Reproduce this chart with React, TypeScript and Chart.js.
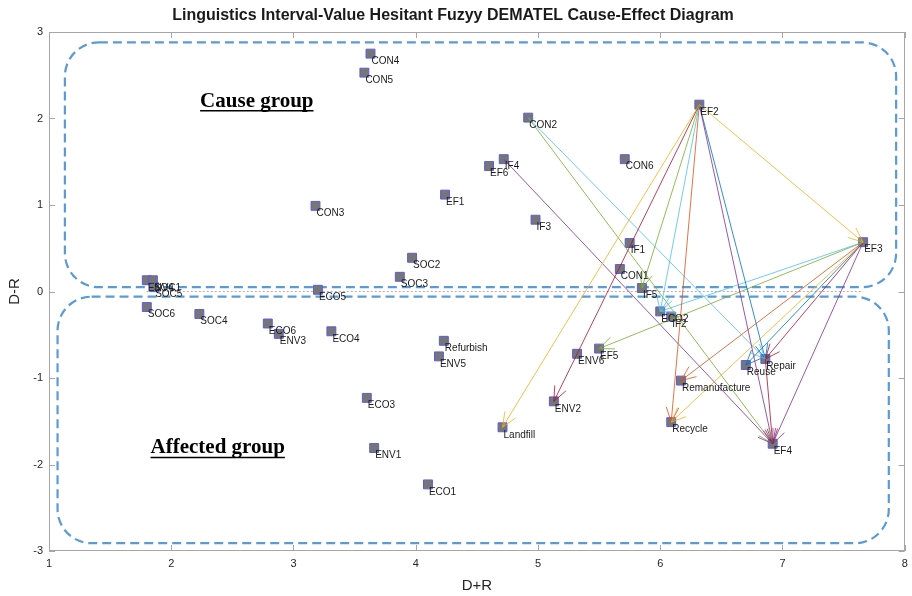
import React, { useEffect, useRef } from "react";
import { Chart, registerables } from "chart.js";

Chart.register(...registerables);

// ---- data ----
const factorNames = [
  "CON4", "CON5", "CON2", "EF2", "IF4", "EF6", "CON6", "EF1", "CON3", "IF3",
  "IF1", "EF3", "SOC2", "CON1", "SOC3", "IF5", "ECO5", "ENV4", "SOC1", "SOC5",
  "SOC6", "SOC4", "ECO6", "ENV3", "ECO4", "Refurbish", "ENV5", "ECO2", "IF2", "EF5",
  "ENV6", "ENV2", "Landfill", "ECO3", "ENV1", "ECO1", "Repair", "Reuse", "Remanufacture", "Recycle",
  "EF4",
];
const factorDplusR = [
  3.63, 3.58, 4.92, 6.32, 4.72, 4.60, 5.71, 4.24, 3.18, 4.98,
  5.75, 7.66, 3.97, 5.67, 3.87, 5.85, 3.20, 1.80, 1.85, 1.86,
  1.80, 2.23, 2.79, 2.88, 3.31, 4.23, 4.19, 6.00, 6.09, 5.50,
  5.32, 5.13, 4.71, 3.60, 3.66, 4.10, 6.86, 6.70, 6.17, 6.09,
  6.92,
];
const factorDminusR = [
  2.75, 2.53, 2.01, 2.16, 1.53, 1.45, 1.53, 1.12, 0.99, 0.83,
  0.56, 0.57, 0.39, 0.26, 0.17, 0.04, 0.02, 0.13, 0.13, 0.05,
  -0.18, -0.26, -0.37, -0.49, -0.46, -0.57, -0.75, -0.23, -0.29, -0.66,
  -0.72, -1.27, -1.57, -1.23, -1.81, -2.23, -0.78, -0.85, -1.03, -1.51,
  -1.76,
];

const arrowFrom = [
  "EF2", "EF2", "EF2", "EF2", "EF2", "EF2", "EF2", "EF2",
  "EF3", "EF3", "EF3", "EF3", "EF3", "EF3", "EF3",
  "CON2", "CON2", "IF4", "Repair",
];
const arrowTo = [
  "EF3", "Landfill", "ENV2", "IF5", "ECO2", "Recycle", "EF4", "Repair",
  "ECO2", "EF5", "Remanufacture", "Recycle", "Reuse", "Repair", "EF4",
  "EF4", "Repair", "EF4", "EF4",
];
const arrowColor = [
  "#EDB120", "#EDB120", "#A2142F", "#77AC30", "#4DBEEE", "#D95319", "#7E2F8E", "#0072BD",
  "#4DBEEE", "#77AC30", "#D95319", "#EDB120", "#0072BD", "#A2142F", "#7E2F8E",
  "#77AC30", "#4DBEEE", "#7E2F8E", "#A2142F",
];

const xTickValues = [1, 2, 3, 4, 5, 6, 7, 8];
const yTickValues = [-3, -2, -1, 0, 1, 2, 3];

const titleText = "Linguistics Interval-Value Hesitant Fuzyy DEMATEL Cause-Effect Diagram";
const xTitle = "D+R";
const yTitle = "D-R";
const groupLabels = ["Cause group", "Affected group"];
const groupLabelX = [2.70, 2.38];
const groupLabelY = [2.20, -1.81];
// group boxes in data units: [x0, x1, yTop, yBottom]
const causeBox = [1.13, 7.93, 2.88, 0.05];
const affectedBox = [1.07, 7.87, -0.06, -2.91];

const idx = (n: string) => factorNames.indexOf(n);

const SANS = "'Liberation Sans', Arial, sans-serif";

function roundRectPath(ctx: CanvasRenderingContext2D, x0: number, y0: number, x1: number, y1: number, r: number) {
  ctx.beginPath();
  ctx.moveTo(x0 + r, y0);
  ctx.lineTo(x1 - r, y0);
  ctx.arcTo(x1, y0, x1, y0 + r, r);
  ctx.lineTo(x1, y1 - r);
  ctx.arcTo(x1, y1, x1 - r, y1, r);
  ctx.lineTo(x0 + r, y1);
  ctx.arcTo(x0, y1, x0, y1 - r, r);
  ctx.lineTo(x0, y0 + r);
  ctx.arcTo(x0, y0, x0 + r, y0, r);
  ctx.closePath();
}

const decorPlugin = {
  id: "decor",
  beforeDatasetsDraw(chart: any) {
    const { ctx, chartArea, scales } = chart;
    const xs = scales.x, ys = scales.y;
    ctx.save();
    // axes box
    ctx.strokeStyle = "#a6a6a6";
    ctx.lineWidth = 1;
    ctx.strokeRect(Math.round(chartArea.left) + 0.5, Math.round(chartArea.top) + 0.5,
      Math.round(chartArea.right - chartArea.left) - 1, Math.round(chartArea.bottom - chartArea.top) - 1);
    ctx.beginPath();
    xTickValues.forEach((v) => {
      const px = Math.round(xs.getPixelForValue(v)) + 0.5;
      ctx.moveTo(px, chartArea.bottom);
      ctx.lineTo(px, chartArea.bottom - 6);
      ctx.moveTo(px, chartArea.top);
      ctx.lineTo(px, chartArea.top + 6);
    });
    yTickValues.forEach((v) => {
      const py = Math.round(ys.getPixelForValue(v)) + 0.5;
      ctx.moveTo(chartArea.left, py);
      ctx.lineTo(chartArea.left + 6, py);
      ctx.moveTo(chartArea.right, py);
      ctx.lineTo(chartArea.right - 6, py);
    });
    ctx.stroke();

    // dashed group boxes
    ctx.strokeStyle = "#5B9BD5";
    ctx.lineWidth = 2.2;
    ctx.setLineDash([9, 5]);
    [causeBox, affectedBox].forEach((b) => {
      roundRectPath(ctx, xs.getPixelForValue(b[0]), ys.getPixelForValue(b[2]),
        xs.getPixelForValue(b[1]), ys.getPixelForValue(b[3]), 34);
      ctx.stroke();
    });
    ctx.setLineDash([]);

    // group labels
    ctx.fillStyle = "#000";
    ctx.strokeStyle = "#000";
    ctx.font = "bold 21px 'Liberation Serif', 'Times New Roman', serif";
    ctx.textAlign = "center";
    ctx.textBaseline = "middle";
    groupLabels.forEach((t, i) => {
      const px = xs.getPixelForValue(groupLabelX[i]);
      const py = ys.getPixelForValue(groupLabelY[i]);
      ctx.fillText(t, px, py);
      const w = ctx.measureText(t).width;
      ctx.lineWidth = 1.5;
      ctx.beginPath();
      ctx.moveTo(px - w / 2, py + 9.5);
      ctx.lineTo(px + w / 2, py + 9.5);
      ctx.stroke();
    });
    ctx.restore();
  },
  afterDatasetsDraw(chart: any) {
    const { ctx, scales } = chart;
    const xs = scales.x, ys = scales.y;
    ctx.save();
    // arrowheads
    arrowFrom.forEach((f, i) => {
      const a = idx(f), b = idx(arrowTo[i]);
      const x0 = xs.getPixelForValue(factorDplusR[a]);
      const y0 = ys.getPixelForValue(factorDminusR[a]);
      const x1 = xs.getPixelForValue(factorDplusR[b]);
      const y1 = ys.getPixelForValue(factorDminusR[b]);
      const ang = Math.atan2(y1 - y0, x1 - x0);
      const L = 16, h = 0.4;
      ctx.strokeStyle = arrowColor[i];
      ctx.globalAlpha = 0.8;
      ctx.lineWidth = 1;
      ctx.beginPath();
      ctx.moveTo(x1 - L * Math.cos(ang - h), y1 - L * Math.sin(ang - h));
      ctx.lineTo(x1, y1);
      ctx.lineTo(x1 - L * Math.cos(ang + h), y1 - L * Math.sin(ang + h));
      ctx.stroke();
    });
    ctx.globalAlpha = 1;
    // point labels
    ctx.fillStyle = "#1a1a1a";
    ctx.font = `10px ${SANS}`;
    ctx.textAlign = "left";
    ctx.textBaseline = "top";
    factorNames.forEach((n, i) => {
      const px = xs.getPixelForValue(factorDplusR[i]);
      const py = ys.getPixelForValue(factorDminusR[i]);
      ctx.fillText(n, px + 1, py + 2.5);
    });
    ctx.restore();
  },
};

export default function App() {
  const canvasRef = useRef<HTMLCanvasElement | null>(null);

  useEffect(() => {
    document.body.style.margin = "0";
    const canvas = canvasRef.current;
    if (!canvas) return;

    const arrowDatasets = arrowFrom.map((f, i) => {
      const a = idx(f), b = idx(arrowTo[i]);
      return {
        type: "line" as const,
        label: `${f}->${arrowTo[i]}`,
        data: [
          { x: factorDplusR[a], y: factorDminusR[a] },
          { x: factorDplusR[b], y: factorDminusR[b] },
        ],
        borderColor: arrowColor[i] + "CC",
        borderWidth: 1,
        pointRadius: 0,
        showLine: true,
        fill: false,
      };
    });

    const xMin = Math.min(...factorDplusR);
    const xMax = Math.max(...factorDplusR);

    const chart = new Chart(canvas, {
      type: "scatter",
      data: {
        datasets: [
          ...arrowDatasets,
          {
            type: "scatter" as const,
            label: "factors",
            data: factorNames.map((_, i) => ({ x: factorDplusR[i], y: factorDminusR[i] })),
            pointStyle: "rect",
            pointRadius: 6.3,
            backgroundColor: "#767676",
            borderColor: "#5c5ce0",
            borderWidth: 1,
          },
          {
            type: "line" as const,
            label: "zero",
            data: [{ x: xMin, y: 0 }, { x: xMax, y: 0 }],
            borderColor: "#a8a8ec",
            borderWidth: 1,
            borderDash: [2, 2],
            pointRadius: 0,
            showLine: true,
          },
        ] as any,
      },
      options: {
        animation: false,
        responsive: false,
        maintainAspectRatio: false,
        layout: { padding: { left: 0, right: 6, top: 0, bottom: 0 } },
        plugins: {
          legend: { display: false },
          tooltip: { enabled: false },
          title: {
            display: true,
            text: titleText,
            color: "#1a1a1a",
            font: { family: SANS, size: 16, weight: "bold" },
            padding: { top: 6, bottom: 6.8 },
          },
        },
        scales: {
          x: {
            type: "linear",
            min: 1,
            max: 8,
            afterBuildTicks: (s: any) => { s.ticks = xTickValues.map((v) => ({ value: v })); },
            afterFit: (s: any) => { s.height = 45; s.paddingRight = 0; s.paddingLeft = 0; },
            grid: { display: false, drawTicks: false },
            border: { display: false },
            ticks: { color: "#262626", font: { family: SANS, size: 11 }, padding: 6, maxRotation: 0 },
            title: { display: true, text: xTitle, color: "#262626", font: { family: SANS, size: 15 }, padding: { top: 0, bottom: 1 } },
          },
          y: {
            type: "linear",
            min: -3,
            max: 3,
            afterBuildTicks: (s: any) => { s.ticks = yTickValues.map((v) => ({ value: v })); },
            afterFit: (s: any) => { s.width = 49; },
            grid: { display: false, drawTicks: false },
            border: { display: false },
            ticks: { color: "#262626", font: { family: SANS, size: 11 }, padding: 6 },
            title: { display: true, text: yTitle, color: "#262626", font: { family: SANS, size: 15 }, padding: { top: 6, bottom: 0 } },
          },
        },
      } as any,
      plugins: [decorPlugin],
    });

    return () => chart.destroy();
  }, []);

  return (
    <div style={{ width: 912, height: 596 }}>
      <canvas ref={canvasRef} width={912} height={596} />
    </div>
  );
}
